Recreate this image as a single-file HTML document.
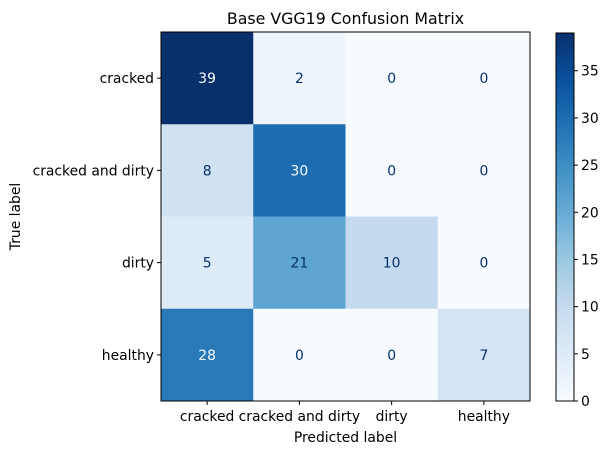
<!DOCTYPE html>
<html><head><meta charset="utf-8"><style>
body{margin:0;background:#fff;font-family:"Liberation Sans","DejaVu Sans",sans-serif}
svg text{font-family:"DejaVu Sans","Liberation Sans",sans-serif}
</style></head><body>
<svg id="c" width="611" height="455" xmlns="http://www.w3.org/2000/svg"></svg>
<script>
const labels=["cracked","cracked and dirty","dirty","healthy"];
const matrix=[[39,2,0,0],[8,30,0,0],[5,21,10,0],[28,0,0,7]];
const cbTicks=[0,5,10,15,20,25,30,35];
const vmin=0,vmax=39;
const stops=["#f7fbff","#deebf7","#c6dbef","#9ecae1","#6baed6","#4292c6","#2171b5","#08519c","#08306b"];
function hex(h){return [1,3,5].map(i=>parseInt(h.substr(i,2),16));}
function cmap(v){let t=Math.max(0,Math.min(1,(v-vmin)/(vmax-vmin)))*8;let i=Math.min(7,Math.floor(t)),f=t-i;
const a=hex(stops[i]),b=hex(stops[i+1]);return "rgb("+a.map((x,k)=>Math.round(x+(b[k]-x)*f)).join(",")+")";}
const svg=document.getElementById('c');const NS="http://www.w3.org/2000/svg";
function el(tag,attrs,parent){const e=document.createElementNS(NS,tag);for(const k in attrs)e.setAttribute(k,attrs[k]);(parent||svg).appendChild(e);return e;}
const FS='13.9';
const X0=161,Y0=32,W=369,H=369,n=labels.length,cw=W/n,ch=H/n;
const xs=i=>X0+i*cw, ys=i=>Y0+i*ch;
for(let r=0;r<n;r++)for(let c=0;c<n;c++){
 const v=matrix[r][c];
 const rect=el('rect',{x:xs(c),y:ys(r),width:cw+0.5,height:ch+0.5,fill:cmap(v)});
 
 
 const t=el('text',{x:xs(c)+cw/2,y:ys(r)+ch/2+5,'text-anchor':'middle','font-size':FS,fill:v>=25?'#f7fbff':'#08306b'});
 t.textContent=v;
 
 
}
const fr=el('rect',{x:X0,y:Y0,width:W,height:H,fill:'none',stroke:'#000','stroke-width':1});

labels.forEach((l,i)=>{
 el('line',{x1:X0-4,x2:X0,y1:ys(i)+ch/2,y2:ys(i)+ch/2,stroke:'#000'});
 const t=el('text',{x:X0-7,y:ys(i)+ch/2+5,'text-anchor':'end','font-size':FS});t.textContent=l;
 
 el('line',{x1:xs(i)+cw/2,x2:xs(i)+cw/2,y1:Y0+H,y2:Y0+H+4,stroke:'#000'});
 const u=el('text',{x:xs(i)+cw/2,y:Y0+H+20,'text-anchor':'middle','font-size':FS});u.textContent=l;
 
});
let t=el('text',{x:X0+W/2,y:24,'text-anchor':'middle','font-size':'15.8'});t.textContent='Base VGG19 Confusion Matrix';

t=el('text',{x:X0+W/2,y:442,'text-anchor':'middle','font-size':FS});t.textContent='Predicted label';

t=el('text',{x:20,y:Y0+H/2,'text-anchor':'middle','font-size':FS,transform:'rotate(-90 20 '+(Y0+H/2)+')'});t.textContent='True label';

const CX=556,CW=18,CY0=33,CY1=401;
const cy=v=>CY1-(v-vmin)/(vmax-vmin)*(CY1-CY0);
const defs=el('defs',{});const g=el('linearGradient',{id:'cb',x1:0,y1:1,x2:0,y2:0},defs);
stops.forEach((s,i)=>el('stop',{offset:i/8,'stop-color':s},g));
const cb=el('rect',{x:CX,y:CY0,width:CW,height:CY1-CY0,fill:'url(#cb)',stroke:'#000'});

cbTicks.forEach(v=>{
 el('line',{x1:CX+CW,x2:CX+CW+4,y1:cy(v),y2:cy(v),stroke:'#000'});
 const s=el('text',{x:CX+CW+7,y:cy(v)+5,'font-size':FS});s.textContent=v;
 
});
</script>
</body></html>
